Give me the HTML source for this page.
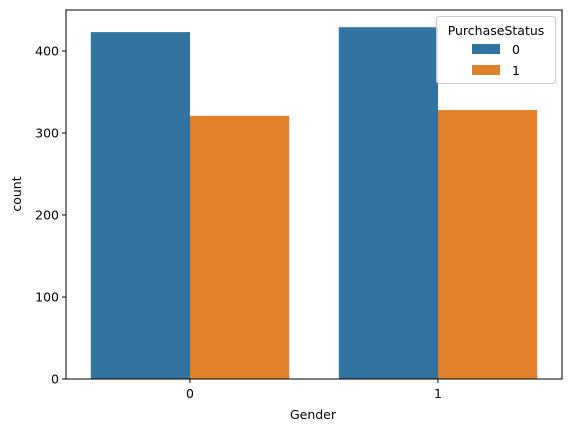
<!DOCTYPE html>
<html><head><style>
body{margin:0;background:#fff;}
svg{font-family:"DejaVu Sans","Liberation Sans",sans-serif;}
</style></head><body>
<svg width="571" height="432">
<g id="plot"></g>
<text x="313" y="419" text-anchor="middle" font-size="12.5">Gender</text>
<text x="21" y="194" text-anchor="middle" font-size="12.5" transform="rotate(-90 21 194)">count</text>
<g>
<rect x="436.5" y="16.5" width="119" height="67" rx="3" fill="#fff" fill-opacity="0.8" stroke="#ccc"/>
<text x="496" y="35" text-anchor="middle" font-size="12.5">PurchaseStatus</text>
<rect x="472" y="44" width="28" height="10" fill="#3274a1"/>
<text x="512" y="54" font-size="12.5">0</text>
<rect x="472" y="65" width="28" height="10" fill="#e1812c"/>
<text x="512" y="75" font-size="12.5">1</text>
</g>
</svg>
<script>
const categories = ["0","1"];
const hues = ["0","1"];
const series0 = [423, 429];
const series1 = [321, 328];
const yTicks = [0,100,200,300,400];
const colors = ["#3274a1","#e1812c"];
const L=66,R=562,T=10,B=379;
const yScale=v=>B-v*0.82;
const band=(R-L)/categories.length;
const xCenter=i=>L+band*(i+0.5);
const bw=band*0.8/hues.length;
const g=document.getElementById('plot');
const NS="http://www.w3.org/2000/svg";
function mk(t,a){const e=document.createElementNS(NS,t);for(const k in a)e.setAttribute(k,a[k]);g.appendChild(e);return e;}
[series0,series1].forEach((s,h)=>{s.forEach((v,i)=>{
 const r=mk('rect',{x:xCenter(i)-band*0.4+h*bw,y:yScale(v),width:bw,height:B-yScale(v),fill:colors[h]});
 
 
});});
const f=mk('rect',{x:L,y:T,width:R-L,height:B-T,fill:'none',stroke:'#000','stroke-width':1});


yTicks.forEach(t=>{
 const y=yScale(t);
 const l=mk('line',{x1:L-4,x2:L,y1:y,y2:y,stroke:'#000'});
 
 
 const tx=mk('text',{x:L-7,y:y+4.5,'text-anchor':'end','font-size':'12.5'});tx.textContent=t;
 
 
});
categories.forEach((c,i)=>{
 const x=xCenter(i);
 const l=mk('line',{x1:x,x2:x,y1:B,y2:B+4,stroke:'#000'});
 
 
 const tx=mk('text',{x:x,y:B+19,'text-anchor':'middle','font-size':'12.5'});tx.textContent=c;
 
 
});
</script>
</body></html>
